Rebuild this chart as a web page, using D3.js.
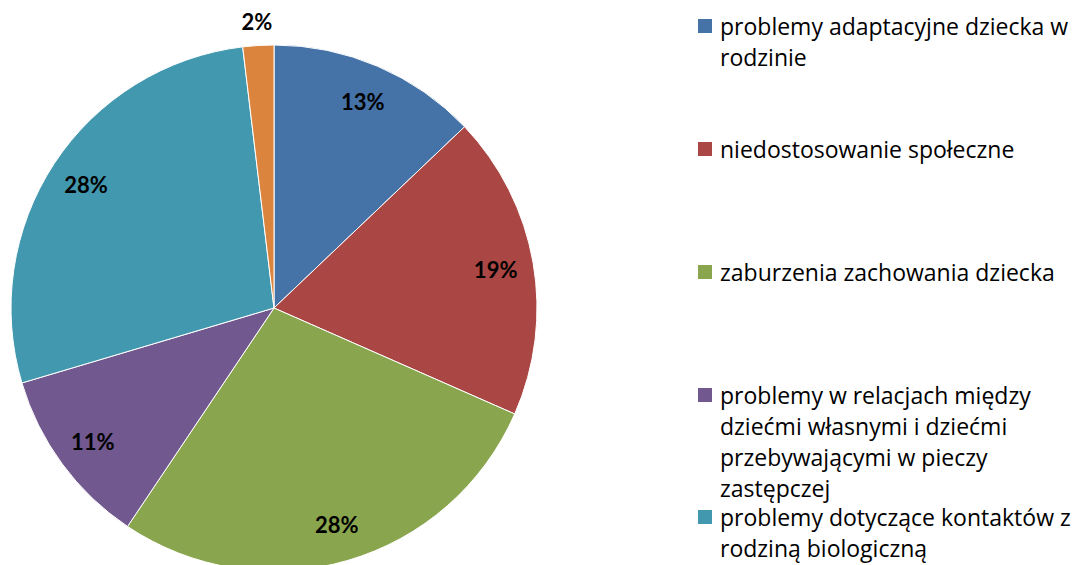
<!DOCTYPE html>
<html>
<head>
<meta charset="utf-8">
<script src="https://cdn.jsdelivr.net/npm/d3@7"></script>
<style>
  body { margin: 0; background: #fff; }
  svg { display: block; }
</style>
</head>
<body>
<script>
const outerWidth = 1078;
const outerHeight = 565;

// data (percent shares, clockwise from 12 o'clock)
const categories = [
  'problemy adaptacyjne dziecka w rodzinie',
  'niedostosowanie społeczne',
  'zaburzenia zachowania dziecka',
  'problemy w relacjach między dziećmi własnymi i dziećmi przebywającymi w pieczy zastępczej',
  'problemy dotyczące kontaktów z rodziną biologiczną',
  'inne'
];
const shares = [12.9, 18.7, 27.8, 11.0, 27.7, 1.9];
const pctLabels = ['13%', '19%', '28%', '11%', '28%', '2%'];
const colors = ['#4572A7', '#AA4643', '#89A54E', '#71588F', '#4198AF', '#DB843D'];

// legend lines as wrapped in the original (last category has no legend entry)
const legendLines = [
  ['problemy adaptacyjne dziecka w', 'rodzinie'],
  ['niedostosowanie społeczne'],
  ['zaburzenia zachowania dziecka'],
  ['problemy w relacjach między', 'dziećmi własnymi i dziećmi', 'przebywającymi w pieczy', 'zastępczej'],
  ['problemy dotyczące kontaktów z', 'rodziną biologiczną']
];
const legendY = [26, 149, 272, 395, 517];

const data = categories.map((c, i) => ({ cat: c, value: shares[i], label: pctLabels[i], color: colors[i] }));

const svg = d3.select('body').append('svg')
    .attr('width', outerWidth)
    .attr('height', outerHeight);

const cx = 274, cy = 308, radius = 263;

const pie = d3.pie()
    .sort(null)
    .value(d => d.value);

const arc = d3.arc()
    .innerRadius(0)
    .outerRadius(radius);

const labelArc = d3.arc()
    .innerRadius(225)
    .outerRadius(225);

const outsideArc = d3.arc()
    .innerRadius(287)
    .outerRadius(287);

const g = svg.append('g')
    .attr('transform', `translate(${cx},${cy})`);

const arcs = pie(data);

g.selectAll('path')
    .data(arcs)
    .enter()
  .append('path')
    .attr('d', arc)
    .attr('fill', d => d.data.color)
    .attr('stroke', '#fff')
    .attr('stroke-width', 1);

// percentage labels, small slice goes outside
g.selectAll('text.pct')
    .data(arcs)
    .enter()
  .append('text')
    .attr('class', 'pct')
    .attr('transform', d => {
      const p = (d.data.value < 5 ? outsideArc : labelArc).centroid(d);
      return `translate(${p[0]},${p[1]})`;
    })
    .attr('text-anchor', 'middle')
    .attr('dominant-baseline', 'central')
    .style('font-family', 'Lato, "Open Sans", sans-serif')
    .style('font-weight', 'bold')
    .style('font-size', '22px')
    .style('fill', '#000')
    .text(d => d.data.label);

// legend
const legend = svg.append('g')
    .attr('class', 'legend');

const items = legend.selectAll('g')
    .data(legendLines)
    .enter()
  .append('g')
    .attr('transform', (d, i) => `translate(698,${legendY[i]})`);

items.append('rect')
    .attr('x', 0)
    .attr('y', -7)
    .attr('width', 14)
    .attr('height', 14)
    .attr('fill', (d, i) => colors[i]);

items.each(function(lines, i) {
  const t = d3.select(this).append('text')
      .style('font-family', '"Open Sans", sans-serif')
      .style('font-size', '23px')
      .style('fill', '#000');
  lines.forEach((line, j) => {
    t.append('tspan')
      .attr('x', 22)
      .attr('y', j * 31 + 8.5)
      .text(line);
  });
});
</script>
</body>
</html>
